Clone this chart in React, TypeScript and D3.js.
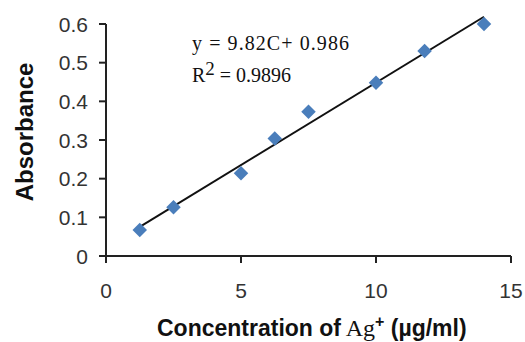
import React from "react";
import * as d3 from "d3";

const concentration = [1.25, 2.5, 5, 6.25, 7.5, 10, 11.8, 14];
const absorbance = [0.067, 0.126, 0.214, 0.304, 0.373, 0.448, 0.53, 0.6];
const xTicks = [0, 5, 10, 15];
const yTicks = [0, 0.1, 0.2, 0.3, 0.4, 0.5, 0.6];
const yTickLabels = ["0", "0.1", "0.2", "0.3", "0.4", "0.5", "0.6"];
const equationText = "y = 9.82C+ 0.986";
const r2Value = " = 0.9896";

export default function App() {
  const W = 525;
  const H = 342;
  const x = d3.scaleLinear().domain([0, 15]).range([106, 511]);
  const y = d3.scaleLinear().domain([0, 0.6]).range([256, 24]);

  const xm = d3.mean(concentration)!;
  const ym = d3.mean(absorbance)!;
  let sxy = 0;
  let sxx = 0;
  concentration.forEach((c, i) => {
    sxy += (c - xm) * (absorbance[i] - ym);
    sxx += (c - xm) * (c - xm);
  });
  const slope = sxy / sxx;
  const intercept = ym - slope * xm;
  const xMin = d3.min(concentration)!;
  const xMax = d3.max(concentration)!;
  const trend = d3.line<number>()
    .x((d) => x(d))
    .y((d) => y(slope * d + intercept))([xMin, xMax]);

  const diamond = d3.symbol().type(d3.symbolDiamond2).size(135)();

  const sans = "'Liberation Sans', Arial, sans-serif";
  const serif = "'Liberation Serif', 'Times New Roman', serif";

  return (
    <svg
      width={W}
      height={H}
      style={{ position: "absolute", left: 0, top: 0, background: "#fff" }}
    >
      {/* axes */}
      <line x1={x(0)} x2={x(0)} y1={y(0.6)} y2={y(0)} stroke="#222" strokeWidth={2} />
      <line x1={x(0)} x2={x(15)} y1={y(0)} y2={y(0)} stroke="#222" strokeWidth={2} />
      {yTicks.map((t, i) => (
        <g key={"y" + i}>
          <line x1={x(0) - 7} x2={x(0)} y1={y(t)} y2={y(t)} stroke="#222" strokeWidth={2} />
          <text
            x={88}
            y={y(t)}
            dy="0.36em"
            textAnchor="end"
            fontFamily={sans}
            fontSize={21}
            fill="#333"
          >
            {yTickLabels[i]}
          </text>
        </g>
      ))}
      {xTicks.map((t, i) => (
        <g key={"x" + i}>
          <line x1={x(t)} x2={x(t)} y1={y(0)} y2={y(0) + 7} stroke="#222" strokeWidth={2} />
          <text
            x={x(t)}
            y={298}
            textAnchor="middle"
            fontFamily={sans}
            fontSize={21}
            fill="#333"
          >
            {t}
          </text>
        </g>
      ))}

      {/* trendline */}
      <path d={trend ?? ""} stroke="#111" strokeWidth={2} fill="none" />

      {/* points */}
      {concentration.map((c, i) => (
        <path
          key={"p" + i}
          d={diamond ?? ""}
          transform={`translate(${x(c)},${y(absorbance[i])})`}
          fill="#4a7ebb"
        />
      ))}

      {/* equation */}
      <text x={192} y={50} fontFamily={serif} fontSize={20} fill="#111" textLength={157} lengthAdjust="spacing">
        {equationText}
      </text>
      <text x={192} y={82} fontFamily={serif} fontSize={20} fill="#111">
        R
        <tspan fontSize={19} dy={-7}>2</tspan>
        <tspan dy={7}>{r2Value}</tspan>
      </text>

      {/* axis titles */}
      <text
        transform={`translate(33,${132}) rotate(-90)`}
        textAnchor="middle"
        fontFamily={sans}
        fontWeight="bold"
        fontSize={24}
        fill="#111"
      >
        Absorbance
      </text>
      <text x={157} y={336} fontFamily={sans} fontWeight="bold" fontSize={23} fill="#111">
        Concentration of
        <tspan fontFamily={serif} fontWeight="normal" fontSize={24}> Ag</tspan>
        <tspan fontSize={16} dy={-9}>+</tspan>
        <tspan dy={9}> (µg/ml)</tspan>
      </text>
    </svg>
  );
}
